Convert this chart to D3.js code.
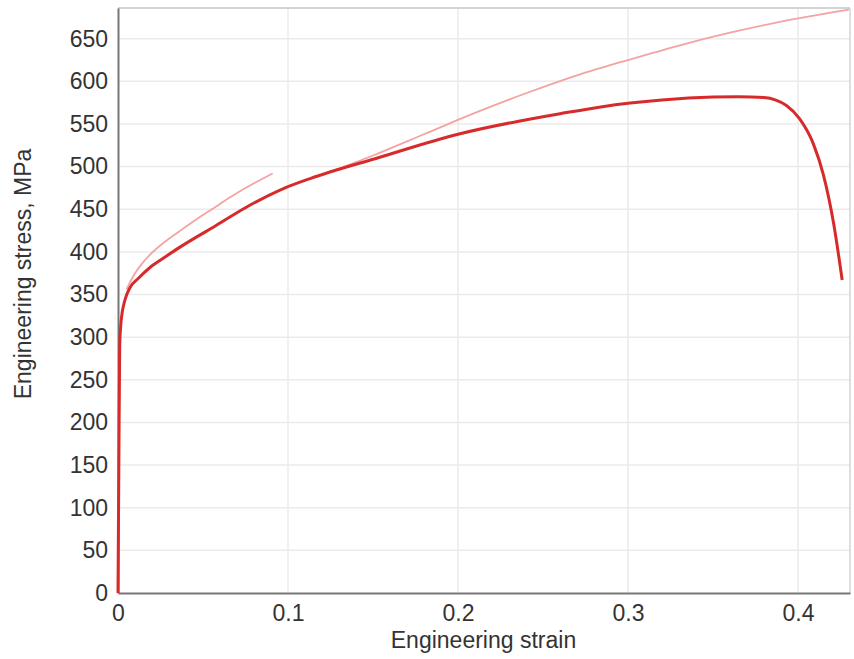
<!DOCTYPE html>
<html>
<head>
<meta charset="utf-8">
<script src="https://d3js.org/d3.v7.min.js"></script>
<style>
  body { margin: 0; background: #fff; }
  text { font-family: "Liberation Sans", Arial, sans-serif; fill: #333; }
</style>
</head>
<body>
<svg id="chart" width="854" height="659"></svg>
<script>
// tick values
const xTicks = [0, 0.1, 0.2, 0.3, 0.4];
const yTicks = [0, 50, 100, 150, 200, 250, 300, 350, 400, 450, 500, 550, 600, 650];

// main test curve (thick red)
const mainStrain = [0, 0.0005, 0.001, 0.002, 0.004, 0.007, 0.012, 0.019, 0.027, 0.036, 0.056, 0.076, 0.097, 0.113, 0.154, 0.2, 0.235, 0.26, 0.284, 0.32, 0.35, 0.365, 0.38, 0.387, 0.393, 0.401, 0.409, 0.415, 0.421, 0.426];
const mainStress = [0, 150, 290, 322, 343, 358, 369, 382, 393, 405, 429, 453, 474, 486, 511, 538, 553, 562, 570, 578, 581.5, 582, 581, 578, 572, 556, 527, 490, 433, 367];

// lighter curve, first part
const pinkStrain1 = [0.005, 0.01, 0.014, 0.019, 0.027, 0.036, 0.046, 0.056, 0.066, 0.076, 0.091];
const pinkStress1 = [356, 375, 386, 397, 411, 424, 438, 451, 464, 476, 492];

// lighter curve, second part
const pinkStrain2 = [0.125, 0.15, 0.18, 0.21, 0.24, 0.27, 0.3, 0.33, 0.36, 0.39, 0.43];
const pinkStress2 = [494, 513, 538, 563, 586, 607, 625, 642, 657, 670, 684];

const svg = d3.select("#chart");
const margin = { left: 118, right: 4, top: 8, bottom: 66 };
const width = 854 - margin.left - margin.right;
const height = 659 - margin.top - margin.bottom;

const x = d3.scaleLinear().domain([0, 0.4306]).range([0, width]);
const y = d3.scaleLinear().domain([0, 686]).range([height, 0]);

const g = svg.append("g").attr("transform", `translate(${margin.left},${margin.top})`);

// grid
g.selectAll("line.hgrid").data(yTicks.filter(d => d > 0)).enter().append("line")
    .attr("x1", 0).attr("x2", width)
    .attr("y1", d => y(d)).attr("y2", d => y(d))
    .style("stroke", "#ebebeb").style("stroke-width", 1.5);
g.selectAll("line.vgrid").data(xTicks.filter(d => d > 0)).enter().append("line")
    .attr("y1", 0).attr("y2", height)
    .attr("x1", d => x(d)).attr("x2", d => x(d))
    .style("stroke", "#ebebeb").style("stroke-width", 1.5);

// frame top / right
g.append("line").attr("x1", 0).attr("x2", width).attr("y1", 0).attr("y2", 0)
    .style("stroke", "#d4d4d4").style("stroke-width", 2);
g.append("line").attr("x1", width).attr("x2", width).attr("y1", 0).attr("y2", height)
    .style("stroke", "#d4d4d4").style("stroke-width", 1.5);

// axes
const xAxis = g.append("g").attr("transform", `translate(0,${height})`)
    .call(d3.axisBottom(x).tickValues(xTicks).tickSize(0).tickPadding(12)
        .tickFormat(d => d === 0 ? "0" : d3.format(".1f")(d)));
const yAxis = g.append("g")
    .call(d3.axisLeft(y).tickValues(yTicks).tickSize(0).tickPadding(10));

[xAxis, yAxis].forEach(a => {
    a.select(".domain").style("stroke", "#777").style("stroke-width", 2);
    a.selectAll("text").style("font-size", "23px").style("fill", "#333")
        .style("font-family", "'Liberation Sans', Arial, sans-serif");
});

// axis titles
svg.append("text")
    .attr("x", margin.left + x(0.215)).attr("y", 648)
    .attr("text-anchor", "middle").style("font-size", "23px")
    .text("Engineering strain");
svg.append("text")
    .attr("transform", `translate(31,${274}) rotate(-90)`)
    .attr("text-anchor", "middle").style("font-size", "23px")
    .text("Engineering stress, MPa");

// curves
const line = d3.line()
    .x(d => x(d[0]))
    .y(d => y(d[1]))
    .curve(d3.curveMonotoneX);

const pink1 = pinkStrain1.map((s, i) => [s, pinkStress1[i]]);
const pink2 = pinkStrain2.map((s, i) => [s, pinkStress2[i]]);
const main = mainStrain.map((s, i) => [s, mainStress[i]]);

g.append("path").datum(pink1).attr("d", line)
    .style("fill", "none").style("stroke", "#f4a3a3").style("stroke-width", 1.8);
g.append("path").datum(pink2).attr("d", line)
    .style("fill", "none").style("stroke", "#f4a3a3").style("stroke-width", 1.8);
g.append("path").datum(main).attr("d", line)
    .style("fill", "none").style("stroke", "#d72b2b").style("stroke-width", 3)
    .style("stroke-linejoin", "round");
</script>
</body>
</html>
